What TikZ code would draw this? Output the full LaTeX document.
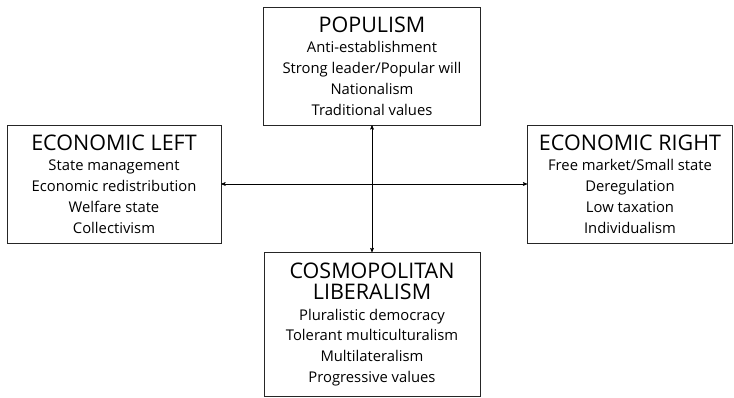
\documentclass[tikz,border=0pt]{standalone}
\usepackage{fontspec}
\setmainfont{Open Sans}
\usepackage{tikz}
\usetikzlibrary{arrows}

\newcommand{\boxhead}[1]{{\fontsize{21.5}{27}\selectfont #1}}

\begin{document}
\begin{tikzpicture}[<->,>=stealth',x=1pt,y=-1pt,semithick]
  \tikzstyle{axisbox}=[rectangle,draw=black!85,fill=white,align=center,
                       font=\fontsize{14.8}{20.8}\selectfont,inner sep=0pt]
  \useasboundingbox (0,0) rectangle (734,398);

  \node[axisbox,minimum width=217pt,minimum height=118pt] (P) at (372,66)
    {\boxhead{POPULISM}\\Anti-establishment\\Strong leader/Popular will\\Nationalism\\Traditional values};
  \node[axisbox,minimum width=214pt,minimum height=118pt] (L) at (114,184)
    {\boxhead{ECONOMIC LEFT}\\State management\\Economic redistribution\\Welfare state\\Collectivism};
  \node[axisbox,minimum width=205pt,minimum height=118pt] (R) at (630,184)
    {\boxhead{ECONOMIC RIGHT}\\Free market/Small state\\Deregulation\\Low taxation\\Individualism};
  \node[axisbox,minimum width=216pt,minimum height=144pt] (C) at (372,324.5)
    {\boxhead{COSMOPOLITAN}\\\boxhead{LIBERALISM}\\Pluralistic democracy\\Tolerant multiculturalism\\Multilateralism\\Progressive values};

  \path (L) edge (R)
        (P) edge (C);
\end{tikzpicture}
\end{document}
